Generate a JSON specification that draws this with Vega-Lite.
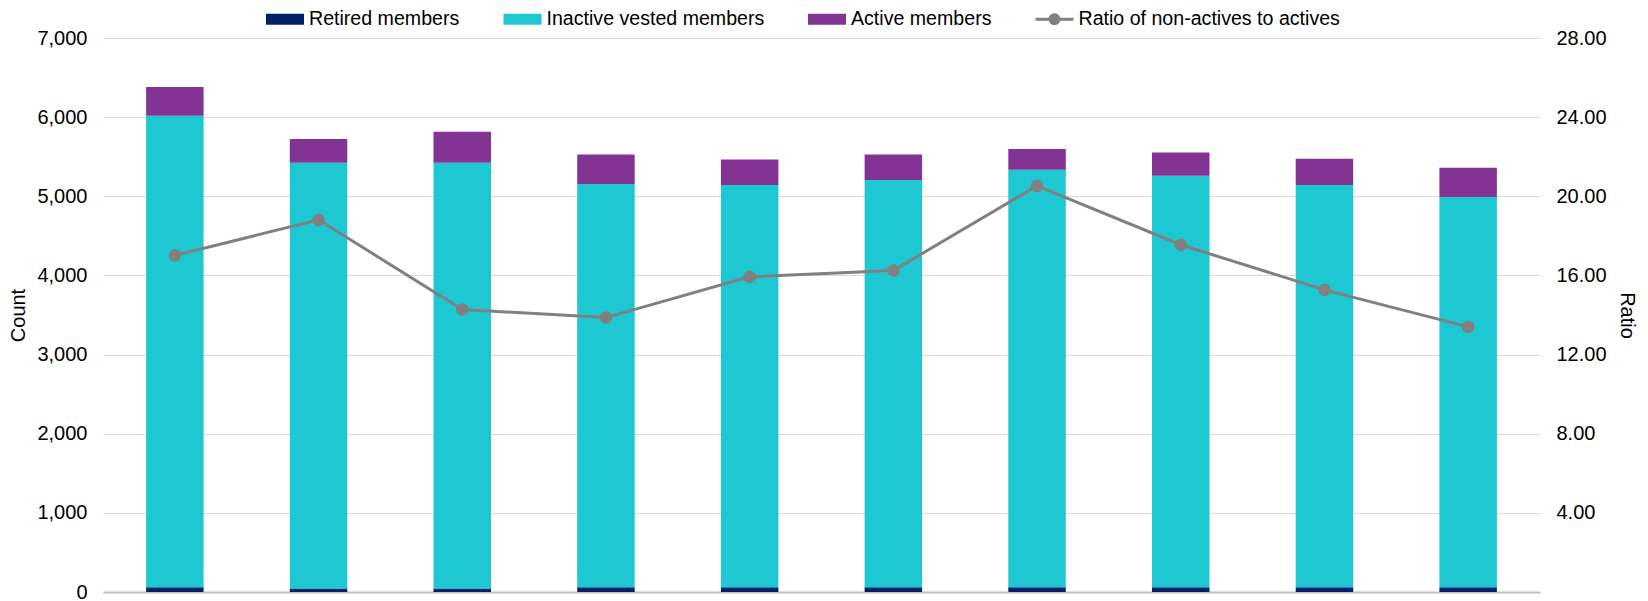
{
  "$schema": "https://vega.github.io/schema/vega-lite/v6.json",
  "width": 1437,
  "height": 554,
  "autosize": {"type": "none"},
  "padding": {"left": 103, "top": 38, "right": 108, "bottom": 9},
  "background": "white",
  "config": {
    "view": {"stroke": null},
    "font": "Liberation Sans",
    "axis": {"labelFont": "Liberation Sans", "titleFont": "Liberation Sans", "labelColor": "#000000", "titleColor": "#000000", "titleFontWeight": "normal"}
  },
  "datasets": {
    "bars": [
      {"period": "1", "series": "Retired members", "ord": 1, "count": 60},
      {"period": "1", "series": "Inactive vested members", "ord": 2, "count": 5958},
      {"period": "1", "series": "Active members", "ord": 3, "count": 363},
      {"period": "2", "series": "Retired members", "ord": 1, "count": 45},
      {"period": "2", "series": "Inactive vested members", "ord": 2, "count": 5379},
      {"period": "2", "series": "Active members", "ord": 3, "count": 299},
      {"period": "3", "series": "Retired members", "ord": 1, "count": 45},
      {"period": "3", "series": "Inactive vested members", "ord": 2, "count": 5379},
      {"period": "3", "series": "Active members", "ord": 3, "count": 391},
      {"period": "4", "series": "Retired members", "ord": 1, "count": 60},
      {"period": "4", "series": "Inactive vested members", "ord": 2, "count": 5094},
      {"period": "4", "series": "Active members", "ord": 3, "count": 375},
      {"period": "5", "series": "Retired members", "ord": 1, "count": 60},
      {"period": "5", "series": "Inactive vested members", "ord": 2, "count": 5082},
      {"period": "5", "series": "Active members", "ord": 3, "count": 323},
      {"period": "6", "series": "Retired members", "ord": 1, "count": 60},
      {"period": "6", "series": "Inactive vested members", "ord": 2, "count": 5145},
      {"period": "6", "series": "Active members", "ord": 3, "count": 324},
      {"period": "7", "series": "Retired members", "ord": 1, "count": 60},
      {"period": "7", "series": "Inactive vested members", "ord": 2, "count": 5275},
      {"period": "7", "series": "Active members", "ord": 3, "count": 262},
      {"period": "8", "series": "Retired members", "ord": 1, "count": 60},
      {"period": "8", "series": "Inactive vested members", "ord": 2, "count": 5199},
      {"period": "8", "series": "Active members", "ord": 3, "count": 295},
      {"period": "9", "series": "Retired members", "ord": 1, "count": 60},
      {"period": "9", "series": "Inactive vested members", "ord": 2, "count": 5082},
      {"period": "9", "series": "Active members", "ord": 3, "count": 332},
      {"period": "10", "series": "Retired members", "ord": 1, "count": 60},
      {"period": "10", "series": "Inactive vested members", "ord": 2, "count": 4930},
      {"period": "10", "series": "Active members", "ord": 3, "count": 370}
    ],
    "ratio": [
      {"period": "1", "ratio": 17.01},
      {"period": "2", "ratio": 18.81},
      {"period": "3", "ratio": 14.28},
      {"period": "4", "ratio": 13.87},
      {"period": "5", "ratio": 15.93},
      {"period": "6", "ratio": 16.25},
      {"period": "7", "ratio": 20.53},
      {"period": "8", "ratio": 17.55},
      {"period": "9", "ratio": 15.27},
      {"period": "10", "ratio": 13.40}
    ]
  },
  "encoding": {
    "x": {
      "field": "period",
      "type": "ordinal",
      "sort": ["1", "2", "3", "4", "5", "6", "7", "8", "9", "10"],
      "scale": {"paddingInner": 0.6, "paddingOuter": 0.3},
      "axis": {"title": null, "labels": false, "ticks": false, "domainColor": "#bfbfbf", "domainWidth": 2, "grid": false}
    }
  },
  "layer": [
    {
      "data": {"name": "bars"},
      "mark": {"type": "bar"},
      "encoding": {
        "y": {
          "field": "count",
          "type": "quantitative",
          "stack": "zero",
          "scale": {"domain": [0, 7000], "nice": false},
          "axis": {
            "title": "Count",
            "titleFontSize": 20,
            "titlePadding": 8,
            "labelFontSize": 20,
            "labelPadding": 16,
            "ticks": false,
            "domain": false,
            "values": [0, 1000, 2000, 3000, 4000, 5000, 6000, 7000],
            "format": ",.0f",
            "gridColor": "#d9d9d9",
            "gridWidth": 1
          }
        },
        "order": {"field": "ord", "type": "quantitative"},
        "color": {
          "field": "series",
          "type": "nominal",
          "scale": {
            "domain": ["Retired members", "Inactive vested members", "Active members", "Ratio of non-actives to actives"],
            "range": ["#002169", "#1ec8d3", "#833394", "#808080"]
          },
          "legend": {
            "title": null,
            "orient": "none",
            "legendX": 163,
            "legendY": -38,
            "direction": "horizontal",
            "columns": 4,
            "columnPadding": 43.5,
            "padding": 0,
            "symbolSize": 1444,
            "symbolStrokeWidth": 0,
            "labelOffset": 5,
            "labelLimit": 500,
            "labelFontSize": 19.6,
            "labelFont": "Liberation Sans",
            "labelColor": "#000000",
            "encode": {
              "symbols": {
                "update": {
                  "shape": {"signal": "datum.value === 'Ratio of non-actives to actives' ? 'M-1,-0.08H1V0.08H-1Z M0.31,0 A0.31,0.31 0 1,1 -0.31,0 A0.31,0.31 0 1,1 0.31,0Z' : 'M-1,-0.29H1V0.29H-1Z'"},
                  "size": {"value": 1444},
                  "fill": {"scale": "color", "field": "value"},
                  "opacity": {"value": 1},
                  "strokeWidth": {"value": 0}
                }
              }
            }
          }
        }
      }
    },
    {
      "data": {"name": "ratio"},
      "mark": {"type": "line", "strokeWidth": 3, "point": {"filled": true, "size": 160, "opacity": 1}},
      "encoding": {
        "y": {
          "field": "ratio",
          "type": "quantitative",
          "scale": {"domain": [0, 28], "nice": false},
          "axis": {
            "orient": "right",
            "title": "Ratio",
            "titleFontSize": 20,
            "titlePadding": 10,
            "labelFontSize": 20,
            "labelPadding": 16,
            "ticks": false,
            "domain": false,
            "grid": false,
            "values": [4, 8, 12, 16, 20, 24, 28],
            "format": ".2f"
          }
        },
        "color": {"datum": "Ratio of non-actives to actives"}
      }
    }
  ],
  "resolve": {"scale": {"y": "independent"}}
}
